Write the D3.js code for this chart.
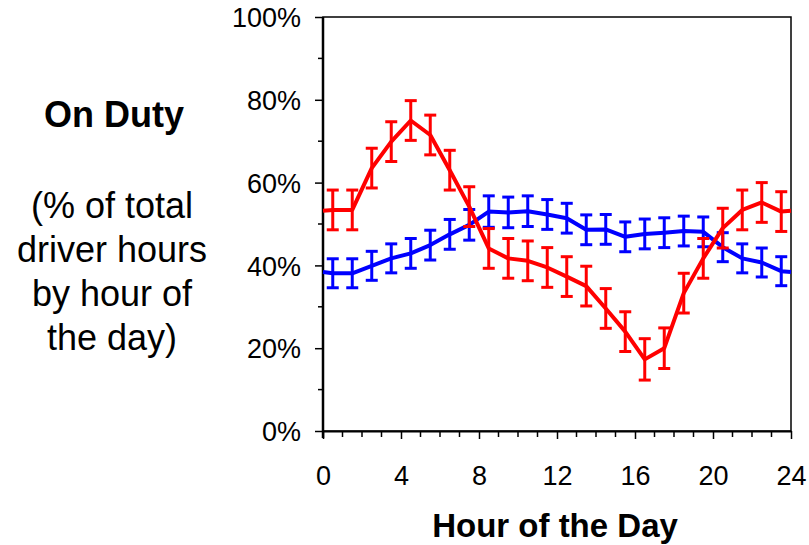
<!DOCTYPE html>
<style>

body {
  margin: 0;
  background: #fff;
}

text {
  font-family: "Liberation Sans", Arial, sans-serif;
  fill: #000;
}

</style>
<body>
<script src="https://d3js.org/d3.v7.min.js"></script>
<script>

var hours = [0.5, 1.5, 2.5, 3.5, 4.5, 5.5, 6.5, 7.5, 8.5, 9.5, 10.5, 11.5,
             12.5, 13.5, 14.5, 15.5, 16.5, 17.5, 18.5, 19.5, 20.5, 21.5, 22.5, 23.5];

var redValues = [53.4, 53.4, 63.5, 69.9, 75.0, 71.5, 63.0, 54.2, 44.1, 41.7, 41.1, 39.5,
                 37.3, 35.0, 29.6, 24.0, 17.3, 20.0, 33.3, 41.7, 49.0, 53.4, 55.2, 53.0];
var redErrors = [4.8, 4.8, 4.8, 4.8, 4.8, 4.8, 4.8, 4.8, 4.8, 4.8, 4.8, 4.8,
                 4.8, 4.8, 4.8, 4.8, 5.0, 4.9, 4.8, 4.8, 4.8, 4.8, 4.8, 4.8];

var blueValues = [38.1, 38.1, 39.9, 41.7, 42.9, 44.9, 47.5, 49.8, 53.0, 52.8, 53.1, 52.3,
                  51.4, 48.6, 48.7, 46.9, 47.6, 47.9, 48.3, 48.1, 44.4, 41.7, 40.7, 38.6];
var blueErrors = [3.5, 3.5, 3.5, 3.5, 3.6, 3.6, 3.6, 3.7, 3.8, 3.7, 3.7, 3.6,
                  3.6, 3.6, 3.6, 3.6, 3.6, 3.6, 3.6, 3.6, 3.5, 3.5, 3.5, 3.5];

// the lines run on to midnight at both edges
var redMidnight = 53.2,
    blueMidnight = 38.4;

var xTicks = [0, 4, 8, 12, 16, 20, 24],
    yTicks = [0, 20, 40, 60, 80, 100];

var sideTitle = "On Duty",
    sideNote = ["(% of total", "driver hours", "by hour of", "the day)"],
    xTitle = "Hour of the Day";

var width = 809,
    height = 545;

var svg = d3.select("body").append("svg")
    .attr("width", width)
    .attr("height", height);

var x = d3.scaleLinear().domain([0, 24]).range([323, 791]),
    y = d3.scaleLinear().domain([0, 100]).range([431, 17]);

// frame
svg.append("rect")
    .attr("x", x(0))
    .attr("y", y(100))
    .attr("width", x(24) - x(0))
    .attr("height", y(0) - y(100))
    .attr("fill", "none")
    .attr("stroke", "#000")
    .attr("stroke-width", 1.5);

// y axis
var yAxis = svg.append("g")
    .attr("transform", "translate(" + x(0) + ",0)");

yAxis.selectAll(".minor")
    .data(d3.range(10, 100, 20))
  .enter().append("line")
    .attr("x1", -5).attr("x2", 0)
    .attr("y1", y).attr("y2", y)
    .attr("stroke", "#000")
    .attr("stroke-width", 1.5);

yAxis.call(d3.axisLeft(y).tickValues(yTicks).tickSize(8).tickSizeOuter(0)
        .tickFormat(function(d) { return d + "%"; }))
    .call(function(g) {
      g.select(".domain").attr("stroke-width", 2.5).attr("d", "M0," + y(100) + "V" + (y(0) + 7));
      g.selectAll(".tick line").attr("stroke-width", 1.5);
      g.selectAll(".tick text")
          .attr("x", -22)
          .attr("dy", "0.36em")
          .style("font-size", "27px")
          .style("font-family", "'Liberation Sans', Arial, sans-serif");
    });

// x axis
var xAxis = svg.append("g")
    .attr("transform", "translate(0," + y(0) + ")");

xAxis.selectAll(".minor")
    .data(d3.range(1, 24).filter(function(d) { return d % 4; }))
  .enter().append("line")
    .attr("x1", x).attr("x2", x)
    .attr("y1", 0).attr("y2", 6)
    .attr("stroke", "#000")
    .attr("stroke-width", 1.5);

xAxis.call(d3.axisBottom(x).tickValues(xTicks).tickSize(8).tickSizeOuter(0))
    .call(function(g) {
      g.select(".domain").attr("stroke-width", 2);
      g.selectAll(".tick line").attr("stroke-width", 1.5);
      g.selectAll(".tick text")
          .attr("y", 35)
          .attr("dy", "0.71em")
          .style("font-size", "27px")
          .style("font-family", "'Liberation Sans', Arial, sans-serif");
    });

svg.append("text")
    .attr("x", 555)
    .attr("y", 537)
    .attr("text-anchor", "middle")
    .style("font-size", "33px")
    .style("font-weight", "bold")
    .text(xTitle);

// left title
svg.append("text")
    .attr("x", 114)
    .attr("y", 127)
    .attr("text-anchor", "middle")
    .style("font-size", "36px")
    .style("font-weight", "bold")
    .text(sideTitle);

svg.selectAll(".note")
    .data(sideNote)
  .enter().append("text")
    .attr("class", "note")
    .attr("x", 112)
    .attr("y", function(d, i) { return 218 + i * 44; })
    .attr("text-anchor", "middle")
    .style("font-size", "36px")
    .text(function(d) { return d; });

// series
var series = [
  {color: "#0000ff", values: blueValues, errors: blueErrors, edge: blueMidnight},
  {color: "#ff0000", values: redValues, errors: redErrors, edge: redMidnight}
];

var line = d3.line()
    .x(function(d) { return x(d[0]); })
    .y(function(d) { return y(d[1]); });

series.forEach(function(s) {
  var pts = [[0, s.edge]]
      .concat(hours.map(function(h, i) { return [h, s.values[i]]; }))
      .concat([[24, s.edge]]);

  var g = svg.append("g")
      .attr("stroke", s.color)
      .attr("fill", "none");

  g.append("path")
      .attr("d", line(pts))
      .attr("stroke-width", 4)
      .attr("stroke-linejoin", "round");

  var bars = g.selectAll(".err")
      .data(hours)
    .enter().append("g")
      .attr("stroke-width", 3);

  bars.append("line")
      .attr("x1", x).attr("x2", x)
      .attr("y1", function(h, i) { return y(s.values[i] + s.errors[i]); })
      .attr("y2", function(h, i) { return y(s.values[i] - s.errors[i]); });

  [1, -1].forEach(function(sign) {
    bars.append("line")
        .attr("x1", function(h) { return x(h) - 6; })
        .attr("x2", function(h) { return x(h) + 6; })
        .attr("y1", function(h, i) { return y(s.values[i] + sign * s.errors[i]); })
        .attr("y2", function(h, i) { return y(s.values[i] + sign * s.errors[i]); });
  });
});

</script>
